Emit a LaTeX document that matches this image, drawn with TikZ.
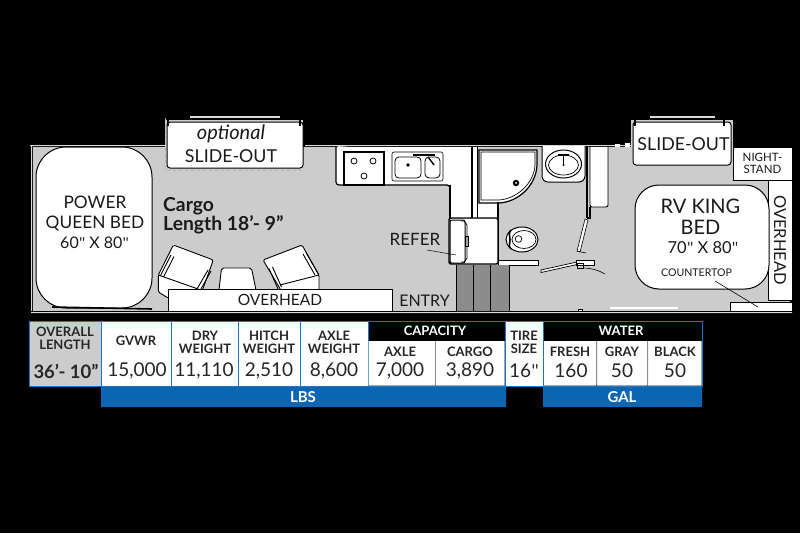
\documentclass[tikz,border=0pt]{standalone}
\usepackage{fontspec}
\setmainfont{Lato}
\newfontfamily\qfont{Carlito}
\newcommand{\qm}{{\qfont\char"22}}
\definecolor{floorgray}{HTML}{CCCCCC}
\definecolor{cellblue}{HTML}{1C75BC}
\definecolor{bandblue}{HTML}{0A66B2}
\definecolor{treadgray}{HTML}{8C8C8C}
\definecolor{inkgray}{HTML}{1A1A1A}
\newcommand{\fs}[1]{\fontsize{#1}{#1}\selectfont}
\tikzset{
  fixture/.style={draw=black,fill=white,line width=1pt},
  lbl/.style={text=inkgray,align=center,inner sep=0pt},
  cell/.style={draw=cellblue,fill=white,line width=1pt},
  head/.style={lbl,font=\fs{13}\bfseries,text=black!85,execute at begin node=\setlength{\baselineskip}{12.8pt}},
  val/.style={lbl,font=\fs{19},text=black!85},
  wlbl/.style={lbl,text=white,font=\fs{13}\bfseries},
  band/.style={lbl,text=white,font=\fs{15}\bfseries},
}
\begin{document}
\begin{tikzpicture}[x=1pt,y=-1pt]
\useasboundingbox (0,0) rectangle (800,533);
\fill[black] (0,0) rectangle (800,533);
% floor
\fill[floorgray] (33,147) rectangle (790,311);
\fill[white!85!black] (30,145) rectangle (166,146) (305,145) rectangle (632,146) (31,145) rectangle (32,313) (31,312) rectangle (792,313);
\draw[line width=1pt,black] (30,311) -- (792,311);
% bottom wall details
\fill[white] (610,307) rectangle (678,309);
\draw[line width=.7pt,fill=white] (578,309) rectangle (582,311);
\fill[white] (615,144) rectangle (620,147) (625,143) rectangle (630,147);
% queen bed
\draw[fixture,rounded corners=30pt] (36,147) rectangle (152,308);
\draw[line width=1.6pt] (52,307) -- (152,309);
% optional slide-out
\fill[white!85!black] (190,116) rectangle (280,117.5);
\fill[floorgray] (165,120) rectangle (303,170);
\draw[fixture,rounded corners=3pt] (167,122) rectangle (303,168);
\draw[white!70!black,dashed,line width=.8pt] (165,118) -- (165,170) -- (303,170);
\draw[black,line width=1.2pt] (168,117) -- (168,126);
\draw[black,line width=1.2pt] (300,117) -- (300,126);
% right slide-out
\fill[white!85!black] (650,116) rectangle (715,117.5);
\fill[floorgray] (631,120) rectangle (733,167);
\draw[fixture,rounded corners=3pt] (633,122) rectangle (731,165);
\draw[black,line width=1.2pt] (635,117) -- (635,126);
\draw[black,line width=1.2pt] (724,117) -- (724,126);
% kitchen counter
\fill[white,rounded corners=3pt] (336,146) -- (336,185) -- (350,185) -- (350,147) -- cycle;
\fill[white] (345,147) rectangle (472,184.5) (451,147) rectangle (472,218);
\draw[line width=1.2pt,rounded corners=3pt] (336,147) -- (336,185) -- (450,185) -- (450,190);
\draw[line width=1.4pt] (450,185) -- (450,218);
% stove
\draw[fixture,line width=1.4pt] (344,152) rectangle (384,185);
\foreach \bx/\by in {354/161,373/161,364/176}{\draw[fixture,line width=.8pt] (\bx,\by) circle (3pt);}
% sink
\draw[fixture,line width=.6pt,rounded corners=2pt] (392,152) rectangle (443,181);
\draw[fixture,line width=.8pt,rounded corners=4pt] (395,157) rectangle (421,178);
\draw[fixture,line width=.8pt,rounded corners=4pt] (425,157) rectangle (440,178);
\fill[black] (408,165) circle (1.8pt);
\draw[line width=1.4pt] (413,155) -- (435,155);
\draw[line width=1.4pt] (428,157) -- (434,165);
% bath walls and shower
\fill[white] (473,147) rectangle (477,218) (477,202) rectangle (498,218);
\draw[line width=1.2pt] (472,147) -- (472,218);
\draw[line width=.9pt] (477,147) -- (477,218);
\draw[line width=1.2pt,fill=white] (479,150) -- (537,150) -- (537,165) .. controls (536,186) and (518,202) .. (499,203) -- (479,203) -- cycle;
\draw[fill=white,line width=.7pt] (481,152) -- (535,152) -- (535,165) .. controls (534,184) and (516,199) .. (499,200) -- (481,200) -- cycle;
\draw[fill=black] (516,183) circle (3pt);
\fill[white] (516,183) circle (1pt);
\draw[line width=1.2pt] (498,202) -- (498,264);
% bath sink
\draw[fixture,rounded corners=6pt] (542,146) -- (542,182) -- (585,182) -- (585,146);
\draw[fixture] (563.5,164) ellipse (18pt and 14pt);
\draw[fixture,line width=.7pt] (563.5,165) ellipse (15pt and 10pt);
\draw[line width=1.2pt] (558,155) -- (569,155) (563.5,155) -- (563.5,164);
\fill[black] (563.5,165) circle (1.2pt);
% closet
\fill[white] (590,147) rectangle (608,207);
\draw[line width=.9pt,rounded corners=2pt] (590,147) -- (590,207) -- (608,207) -- (608,147);
\draw[line width=1.4pt] (587,147) -- (587,218) (587,218) -- (590,218) -- (590,207);
% doors
\draw[line width=.6pt,fill=white] (585,219) -- (588,220) -- (580,252) -- (577,251) -- cycle;
\draw[line width=.6pt] (577,251) -- (586,253);
\draw[line width=.9pt,fill=white] (498,260) rectangle (538,265);
\draw[line width=.7pt,fill=white] (541,270) -- (577,262) -- (577,264.5) -- (541,272.5) -- cycle;
\draw[line width=.8pt,fill=white] (576,260) rectangle (594,265);
\draw[line width=.8pt] (577,263) rectangle (583,268);
\draw[line width=.6pt] (583,268) .. controls (592,268) and (600,271) .. (605,274);
% toilet
\draw[fixture] (522,239.5) ellipse (16pt and 12.5pt);
\draw[fixture,line width=.7pt] (524,239.5) ellipse (12pt and 9pt);
\draw[line width=1.6pt] (511,230) .. controls (508,233) and (510,236) .. (510,240) .. controls (510,244) and (508,246) .. (511,249);
\draw[fixture,line width=.7pt] (518.5,239) circle (3.3pt);
% refrigerator
\fill[white] (450,219) rectangle (498,264);
\draw[line width=1.4pt,rounded corners=2pt] (449,218) rectangle (498,264);
\draw[line width=1pt,rounded corners=2pt] (450,220) rectangle (465,263);
\draw[line width=.8pt] (461,221) -- (464,221) -- (467,225) -- (467,258) -- (464,262) -- (461,262);
\draw[line width=.7pt] (465.5,236) rectangle (468.5,246);
% treads
\fill[treadgray] (456,265) rectangle (473,311) (474,265) rectangle (490,311) (491,265) rectangle (509,311);
\draw[line width=1pt] (456,265) -- (456,311) (473.5,265) -- (473.5,311) (490.5,265) -- (490.5,311) (509,265) -- (509,311);
% chairs
\begin{scope}[line width=.9pt]
\draw[fill=white,rounded corners=1.5pt] (173.3,245) -- (213.3,260) -- (201.7,292) -- (168,298) -- (158.3,292) -- (158.3,275) -- cycle;
\draw (158.3,275) -- (198,289);
\draw (171,255) -- (160.5,275.5);
\draw (174,256.5) -- (163.5,277);
\draw (208,270) -- (197,289);
\draw (211,271) -- (201,289);
\draw[fill=white,rounded corners=2pt] (219,290) -- (221.5,268) -- (251.5,268) -- (256,290);
\draw[fill=white,rounded corners=1.5pt] (263,260) -- (302,245) -- (319,275) -- (319,292) -- (282,292) -- cycle;
\draw (280,285) -- (319,275);
\draw (269,268.5) -- (278,289);
\draw (272.5,267) -- (281.5,287);
\draw (303,254) -- (315,275);
\draw (306,252.5) -- (318,273.5);
\end{scope}
% overhead boxes
\node[fixture,line width=.6pt,minimum width=224pt,minimum height=22pt,inner sep=0pt,font=\fs{15.5},text=inkgray] (ohleft) at (280,300) {OVERHEAD};
% nightstand
\node[fixture,line width=.8pt,minimum width=59pt,minimum height=33pt,inner sep=0pt,align=center,font=\fs{11.5},text=inkgray] (nightstand) at (762.5,163.5) {\setlength{\baselineskip}{12.5pt}NIGHT-\\STAND};
\node[fixture,line width=.8pt,minimum width=120pt,minimum height=24pt,inner sep=0pt,font=\fs{16.5},text=inkgray,rotate=-90] (ohright) at (780,240) {OVERHEAD};
% king bed
\draw[fixture,rounded corners=24pt] (635,185) rectangle (769,289);
\node[fixture,line width=.8pt,minimum width=62pt,minimum height=9pt,inner sep=0pt] (countertop) at (761,306.5) {};
% labels
\node[lbl,font=\fs{17.3},execute at begin node=\setlength{\baselineskip}{20pt}] (queen) at (95,213.5) {POWER\\QUEEN BED};
\node[lbl,font=\fs{16}] (queensize) at (94.5,243) {60\qm{} X 80\qm};
\node[lbl,font=\fs{19.3}\bfseries,align=left,anchor=north west,execute at begin node=\setlength{\baselineskip}{18.5pt}] (cargo) at (163,197.5) {Cargo\\Length 18’- 9”};
\node[lbl,font=\fs{20}\itshape] (opt) at (231,134) {optional};
\node[lbl,font=\fs{17.8}] (slideopt) at (231,156) {SLIDE-OUT};
\node[lbl,font=\fs{17.8}] (slideright) at (683.5,144) {SLIDE-OUT};
\node[lbl,font=\fs{20},execute at begin node=\setlength{\baselineskip}{21pt}] (king) at (700.5,216.5) {RV KING\\BED};
\node[lbl,font=\fs{16.5}] (kingsize) at (703,248) {70\qm{} X 80\qm};
\node[lbl,font=\fs{10.6}] (counterlabel) at (696.5,273) {COUNTERTOP};
\coordinate (counterend) at (758,307);
\draw[line width=.6pt] (715,281) -- (counterend);
\node[lbl,font=\fs{17}] (refer) at (415,239) {REFER};
\coordinate (referend) at (456,255);
\draw[line width=.5pt] (427,250) -- (referend);
\node[lbl,font=\fs{16}] (entry) at (424.5,301) {ENTRY};
% table
\fill[black] (28,320) rectangle (703,387);
\draw[cell,fill=floorgray] (29,321) rectangle (101,386);
\foreach \a/\b in {101.5/171.5,171.5/238.5,238.5/300.5,300.5/368,504.5/543}{\draw[cell] (\a,321) rectangle (\b,386);}
\draw[cell,fill=black] (368,321) rectangle (505,386);
\fill[white] (368.5,341) rectangle (435,385.5) (436,341) rectangle (504.5,385.5);
\fill[black!45] (435,341) rectangle (436,385.5);
\draw[cell,fill=black] (543.5,321) rectangle (702,386);
\fill[white] (544,341) rectangle (596,385.5) (597,341) rectangle (647,385.5) (648,341) rectangle (701.5,385.5);
\fill[black!45] (596,341) rectangle (597,385.5) (647,341) rectangle (648,385.5);
\node[head] (t1) at (65,338.5) {OVERALL\\LENGTH};
\node[lbl,font=\fs{18.5}\bfseries,text=black!85] (v1) at (66,371) {36’- 10”};
\node[head] (t2) at (136,341) {GVWR};
\node[val] (v2) at (137,371) {15,000};
\node[head] (t3) at (205,342) {DRY\\WEIGHT};
\node[val] (v3) at (204,371) {11,110};
\node[head] (t4) at (269,342) {HITCH\\WEIGHT};
\node[val] (v4) at (269,371) {2,510};
\node[head] (t5) at (334,342) {AXLE\\WEIGHT};
\node[val] (v5) at (334,371) {8,600};
\node[wlbl] (cap) at (435,331) {CAPACITY};
\node[head] (t6) at (400,352) {AXLE};
\node[val] (v6) at (400,371) {7,000};
\node[head] (t7) at (470,352) {CARGO};
\node[val] (v7) at (470,371) {3,890};
\node[head] (t8) at (524,342) {TIRE\\SIZE};
\node[val] (v8) at (524,371) {16\qm};
\node[wlbl] (wat) at (621,331) {WATER};
\node[head] (t9) at (570,352) {FRESH};
\node[val] (v9) at (571,371) {160};
\node[head] (t10) at (622,352) {GRAY};
\node[val] (v10) at (622,371) {50};
\node[head] (t11) at (675,352) {BLACK};
\node[val] (v11) at (675,371) {50};
\fill[bandblue] (101,387) rectangle (506,407) (543,387) rectangle (702,407);
\node[band] (lbs) at (303,397) {LBS};
\node[band] (gal) at (622,397) {GAL};
\end{tikzpicture}
\end{document}
